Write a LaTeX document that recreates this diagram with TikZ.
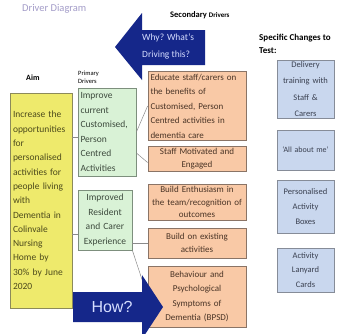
\documentclass[tikz,border=0pt]{standalone}
\usepackage{fontspec}
\setmainfont{Carlito}
\newfontfamily\arialfont{Liberation Sans}

\definecolor{aimfill}{HTML}{EEEA6C}
\definecolor{aimline}{HTML}{8C8A5A}
\definecolor{aimtext}{HTML}{4C4A1C}
\definecolor{pdfill}{HTML}{D9F2D6}
\definecolor{pdline}{HTML}{7D8F7D}
\definecolor{pdtext}{HTML}{3D4A3D}
\definecolor{sdfill}{HTML}{F9C9A6}
\definecolor{sdline}{HTML}{8A7466}
\definecolor{sdtext}{HTML}{4A3426}
\definecolor{chfill}{HTML}{C9D7EE}
\definecolor{chline}{HTML}{868C98}
\definecolor{chtext}{HTML}{3A4050}
\definecolor{navy}{HTML}{15278A}
\definecolor{arrowtext}{HTML}{D6DEFF}
\definecolor{titlecol}{HTML}{A39CC8}
\definecolor{linkcol}{HTML}{8A8A8A}

\tikzset{
  box/.style={draw, line width=0.8pt, inner sep=2pt},
  aimbox/.style={box, fill=aimfill, draw=aimline, text=aimtext,
    minimum width=62pt, minimum height=215pt, text width=56pt, align=left,
    font=\fontsize{9.5}{14.3}\selectfont},
  pdbox/.style={box, fill=pdfill, draw=pdline, text=pdtext,
    font=\fontsize{9.5}{14.6}\selectfont},
  sdbox/.style={box, fill=sdfill, draw=sdline, text=sdtext,
    minimum width=98pt, text width=93pt, align=center,
    font=\fontsize{9}{14.5}\selectfont},
  chbox/.style={box, fill=chfill, draw=chline, text=chtext, inner sep=1pt,
    minimum width=57pt, text width=55pt, align=center,
    font=\fontsize{8.5}{15}\selectfont},
  heading/.style={inner sep=0pt, anchor=west, text=black},
  link/.style={draw=linkcol, line width=0.5pt},
  bigarrow/.style={fill=navy},
  arrowlabel/.style={inner sep=0pt, text=arrowtext}
}

\begin{document}
\begin{tikzpicture}[x=1pt,y=-1pt]
\useasboundingbox (0,0) rectangle (345,333);

% headings
\node[heading, text=titlecol, font=\fontsize{10.5}{12}\selectfont] (title) at (22,9) {Driver Diagram};
\node[heading, font=\fontsize{8.5}{10}\bfseries] (sechead) at (170,15)
  {Secondary {\fontsize{7}{8}\selectfont Drivers}};
\node[heading, font=\fontsize{9}{12.5}\bfseries, align=left, anchor=north west] (chhead) at (259,34)
  {Specific Changes to\\Test:};
\node[heading, font=\fontsize{8}{10}\bfseries] (aimhead) at (26,78) {Aim};
\node[heading, font=\fontsize{6.5}{8}\selectfont, align=left] (pdhead) at (78,77) {Primary\\Drivers};

% free ends of the short aim links
\coordinate (c1) at (78,137);
\coordinate (c2) at (78,234);

% aim
\node[aimbox] (aim) at (41,200.5) {Increase the\\opportunities\\for\\personalised\\activities for\\people living\\with\\Dementia in\\Colinvale\\Nursing\\Home by\\30\% by June\\2020};

% primary drivers
\node[pdbox, minimum width=58pt, minimum height=88pt, text width=53pt, align=left] (pd1) at (107,132)
  {Improve\\current\\Customised,\\Person\\Centred\\Activities};
\node[pdbox, minimum width=54pt, minimum height=60pt, text width=50pt, align=center] (pd2) at (105,220)
  {Improved\\Resident\\and Carer\\Experience};

% secondary drivers
\node[sdbox, minimum height=68pt, align=left] (sd1) at (197,106)
  {Educate staff/carers on\\the benefits of\\Customised, Person\\Centred activities in\\dementia care};
\node[sdbox, minimum height=23pt, font=\fontsize{9}{13}\selectfont] (sd2) at (197,158.5) {Staff Motivated and\\Engaged};
\node[sdbox, minimum height=36pt, font=\fontsize{9}{12.5}\selectfont] (sd3) at (197,202) {Build Enthusiasm in\\the team/recognition of\\outcomes};
\node[sdbox, minimum height=30pt, font=\fontsize{9}{13}\selectfont] (sd4) at (197,243) {Build on existing\\activities};
\node[sdbox, minimum height=61pt] (sd5) at (197,296.5) {Behaviour and\\Psychological\\Symptoms of\\Dementia (BPSD)};

% change ideas
\node[chbox, minimum height=58pt, font=\fontsize{8.5}{16.5}\selectfont] (ch1) at (305.5,89) {Delivery\\training with\\Staff \&\\Carers};
\node[chbox, minimum height=40pt, font=\fontsize{8}{10}\selectfont] (ch2) at (305.5,150) {`All about me'};
\node[chbox, minimum height=53pt] (ch3) at (305.5,206.5) {Personalised\\Activity\\Boxes};
\node[chbox, minimum height=44pt, font=\fontsize{8.5}{14.5}\selectfont] (ch4) at (305.5,270) {Activity\\Lanyard\\Cards};

% connectors
\draw[link] (aim.east |- c1) -- (c1);
\draw[link] (aim.east |- c2) -- (c2);
\draw[link] (pd1.east) -- (sd1.west);
\draw[link] ([yshift=-21pt]pd1.east) -- ([yshift=-4pt]sd2.west);
\draw[link] (pd2.east |- sd4.west) -- (sd4.west);
\draw[link] (pd2.south east) -- (sd5.west);

% big arrows
\fill[bigarrow] (115,47) -- (142,13) -- (142,30) -- (205,30) -- (205,65)
  -- (142,65) -- (142,80) -- cycle;
\node[arrowlabel, anchor=west, align=left, font=\fontsize{9.5}{17}\selectfont] (why) at (142,46.5)
  {Why? What's\\Driving this?};

\fill[bigarrow] (73,292) -- (142,292) -- (142,275) -- (163,307) -- (142,339)
  -- (142,322) -- (73,322) -- cycle;
\node[arrowlabel, font=\arialfont\fontsize{16}{18}\selectfont] (how) at (112,307) {How?};
\end{tikzpicture}
\end{document}
